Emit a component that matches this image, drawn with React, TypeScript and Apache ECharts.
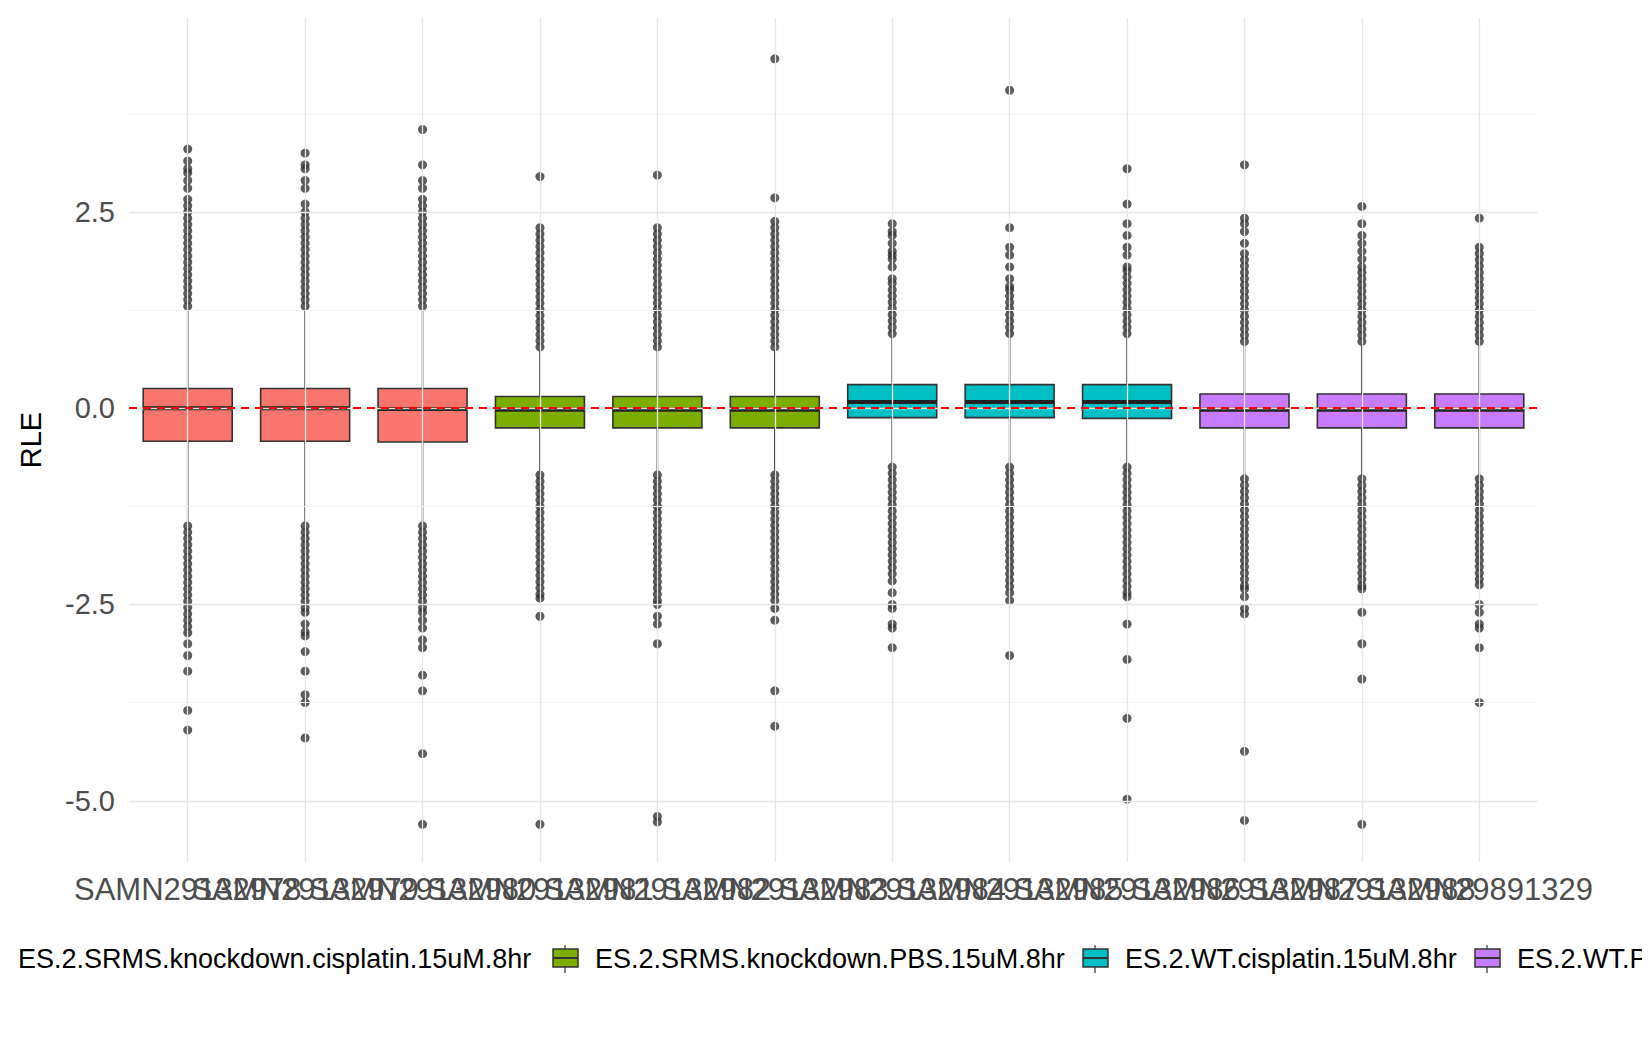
import { useEffect, useRef } from "react";
import * as echarts from "echarts";

const samples = [
  "SAMN29132978", "SAMN29132979", "SAMN29132980", "SAMN29132981",
  "SAMN29132982", "SAMN29132983", "SAMN29132984", "SAMN29132985",
  "SAMN29132986", "SAMN29132987", "SAMN29132988", "SAMN29891329",
];
const groupColors = ["#F8766D", "#7CAE00", "#00BFC4", "#C77CFF"];
const groupOf = [0, 0, 0, 1, 1, 1, 2, 2, 2, 3, 3, 3];
const groupNames = [
  "ES.2.SRMS.knockdown.cisplatin.15uM.8hr",
  "ES.2.SRMS.knockdown.PBS.15uM.8hr",
  "ES.2.WT.cisplatin.15uM.8hr",
  "ES.2.WT.PBS.15uM.8hr",
];

// [lower whisker, q1, median, q3, upper whisker]
const boxStats = [
  [-1.45, -0.42, 0.0, 0.25, 1.27],
  [-1.45, -0.42, 0.0, 0.25, 1.27],
  [-1.45, -0.43, -0.01, 0.25, 1.27],
  [-0.85, -0.25, -0.02, 0.15, 0.75],
  [-0.85, -0.25, -0.02, 0.15, 0.75],
  [-0.85, -0.25, -0.02, 0.15, 0.75],
  [-0.75, -0.12, 0.08, 0.3, 0.92],
  [-0.75, -0.12, 0.08, 0.3, 0.92],
  [-0.75, -0.13, 0.08, 0.3, 0.92],
  [-0.9, -0.25, -0.02, 0.18, 0.82],
  [-0.9, -0.25, -0.02, 0.18, 0.82],
  [-0.9, -0.25, -0.02, 0.18, 0.82],
];

const outliers: number[][] = [
  [1.3, 1.38, 1.46, 1.54, 1.62, 1.7, 1.78, 1.86, 1.94, 2.02, 2.1, 2.18, 2.26, 2.34, 2.42, 2.5, 2.58, 2.66, 2.8, 2.9, 3.0, 3.05, 3.15, 3.3,
    -1.5, -1.58, -1.66, -1.74, -1.82, -1.9, -1.98, -2.06, -2.14, -2.22, -2.3, -2.38, -2.46, -2.54, -2.62, -2.7, -2.78, -2.86, -3.0, -3.15, -3.35, -3.85, -4.1],
  [1.3, 1.38, 1.46, 1.54, 1.62, 1.7, 1.78, 1.86, 1.94, 2.02, 2.1, 2.18, 2.26, 2.34, 2.42, 2.5, 2.6, 2.8, 2.9, 3.05, 3.1, 3.25,
    -1.5, -1.58, -1.66, -1.74, -1.82, -1.9, -1.98, -2.06, -2.14, -2.22, -2.3, -2.38, -2.46, -2.54, -2.6, -2.75, -2.85, -2.9, -3.1, -3.35, -3.65, -3.75, -4.2],
  [1.3, 1.38, 1.46, 1.54, 1.62, 1.7, 1.78, 1.86, 1.94, 2.02, 2.1, 2.18, 2.26, 2.34, 2.42, 2.5, 2.58, 2.66, 2.8, 2.9, 3.1, 3.55,
    -1.5, -1.58, -1.66, -1.74, -1.82, -1.9, -1.98, -2.06, -2.14, -2.22, -2.3, -2.38, -2.46, -2.54, -2.6, -2.7, -2.8, -2.95, -3.05, -3.4, -3.6, -4.4, -5.3],
  [0.78, 0.86, 0.94, 1.02, 1.1, 1.18, 1.26, 1.34, 1.42, 1.5, 1.58, 1.66, 1.74, 1.82, 1.9, 1.98, 2.06, 2.14, 2.22, 2.3, 2.95,
    -0.85, -0.93, -1.01, -1.09, -1.17, -1.25, -1.33, -1.41, -1.49, -1.57, -1.65, -1.73, -1.81, -1.89, -1.97, -2.05, -2.13, -2.21, -2.29, -2.37, -2.42, -2.65, -5.3],
  [0.78, 0.86, 0.94, 1.02, 1.1, 1.18, 1.26, 1.34, 1.42, 1.5, 1.58, 1.66, 1.74, 1.82, 1.9, 1.98, 2.06, 2.14, 2.22, 2.3, 2.97,
    -0.85, -0.93, -1.01, -1.09, -1.17, -1.25, -1.33, -1.41, -1.49, -1.57, -1.65, -1.73, -1.81, -1.89, -1.97, -2.05, -2.13, -2.21, -2.29, -2.37, -2.45, -2.5, -2.65, -2.75, -3.0, -5.2, -5.27],
  [0.78, 0.86, 0.94, 1.02, 1.1, 1.18, 1.26, 1.34, 1.42, 1.5, 1.58, 1.66, 1.74, 1.82, 1.9, 1.98, 2.06, 2.14, 2.22, 2.3, 2.38, 2.68, 4.45,
    -0.85, -0.93, -1.01, -1.09, -1.17, -1.25, -1.33, -1.41, -1.49, -1.57, -1.65, -1.73, -1.81, -1.89, -1.97, -2.05, -2.13, -2.21, -2.29, -2.37, -2.45, -2.55, -2.7, -3.6, -4.05],
  [0.95, 1.03, 1.11, 1.19, 1.27, 1.35, 1.43, 1.51, 1.59, 1.65, 1.8, 1.9, 1.95, 2.0, 2.1, 2.2, 2.25, 2.35,
    -0.75, -0.83, -0.91, -0.99, -1.07, -1.15, -1.23, -1.31, -1.39, -1.47, -1.55, -1.63, -1.71, -1.79, -1.87, -1.95, -2.03, -2.11, -2.2, -2.35, -2.5, -2.55, -2.75, -2.8, -3.05],
  [0.95, 1.03, 1.11, 1.19, 1.27, 1.35, 1.43, 1.51, 1.55, 1.65, 1.8, 1.95, 2.05, 2.3, 4.05,
    -0.75, -0.83, -0.91, -0.99, -1.07, -1.15, -1.23, -1.31, -1.39, -1.47, -1.55, -1.63, -1.71, -1.79, -1.87, -1.95, -2.03, -2.11, -2.19, -2.27, -2.35, -2.45, -3.15],
  [0.95, 1.03, 1.11, 1.19, 1.27, 1.35, 1.43, 1.51, 1.59, 1.67, 1.75, 1.8, 1.95, 2.05, 2.2, 2.35, 2.6, 3.05,
    -0.75, -0.83, -0.91, -0.99, -1.07, -1.15, -1.23, -1.31, -1.39, -1.47, -1.55, -1.63, -1.71, -1.79, -1.87, -1.95, -2.03, -2.11, -2.19, -2.27, -2.35, -2.4, -2.75, -3.2, -3.95, -4.98],
  [0.85, 0.93, 1.01, 1.09, 1.17, 1.25, 1.33, 1.41, 1.49, 1.57, 1.65, 1.73, 1.81, 1.89, 1.97, 2.1, 2.25, 2.35, 2.42, 3.1,
    -0.9, -0.98, -1.06, -1.14, -1.22, -1.3, -1.38, -1.46, -1.54, -1.62, -1.7, -1.78, -1.86, -1.94, -2.02, -2.1, -2.18, -2.26, -2.3, -2.4, -2.55, -2.62, -4.37, -5.25],
  [0.85, 0.93, 1.01, 1.09, 1.17, 1.25, 1.33, 1.41, 1.49, 1.57, 1.65, 1.73, 1.8, 1.9, 2.0, 2.1, 2.2, 2.35, 2.57,
    -0.9, -0.98, -1.06, -1.14, -1.22, -1.3, -1.38, -1.46, -1.54, -1.62, -1.7, -1.78, -1.86, -1.94, -2.02, -2.1, -2.18, -2.26, -2.3, -2.6, -3.0, -3.45, -5.3],
  [0.85, 0.93, 1.01, 1.09, 1.17, 1.25, 1.33, 1.41, 1.49, 1.57, 1.65, 1.73, 1.81, 1.89, 1.97, 2.05, 2.42,
    -0.9, -0.98, -1.06, -1.14, -1.22, -1.3, -1.38, -1.46, -1.54, -1.62, -1.7, -1.78, -1.86, -1.94, -2.02, -2.1, -2.18, -2.25, -2.5, -2.6, -2.75, -2.8, -3.05, -3.75],
];

const majorY = [-5, -2.5, 0, 2.5];
const minorY = [-3.75, -1.25, 1.25, 3.75];
const yMin = -5.78;
const yMax = 4.97;
const font = "Liberation Sans, Arial, sans-serif";

function legendGraphic() {
  const keyX = [-32, 545, 1075, 1467];
  const items: any[] = [];
  keyX.forEach((x, i) => {
    const y = 941;
    items.push(
      { type: "line", shape: { x1: x + 12, y1: y - 4, x2: x + 12, y2: y + 24 }, style: { stroke: "#333", lineWidth: 1.2 } },
      { type: "rect", shape: { x, y, width: 25, height: 18 }, style: { fill: groupColors[i], stroke: "#333", lineWidth: 1.5 } },
      { type: "line", shape: { x1: x, y1: y + 9, x2: x + 25, y2: y + 9 }, style: { stroke: "#333", lineWidth: 2 } },
      { type: "text", x: x + 42, y: y + 10, style: { text: groupNames[i], font: `27px ${font}`, fill: "#000", verticalAlign: "middle" } },
    );
  });
  return items;
}

export default function App() {
  const ref = useRef<HTMLDivElement | null>(null);

  useEffect(() => {
    if (!ref.current) return;
    const chart = echarts.init(ref.current, undefined, { renderer: "svg" });
    const pts: number[][] = [];
    outliers.forEach((list, i) => list.forEach((v) => pts.push([i, v])));
    chart.setOption({
      animation: false,
      backgroundColor: "#fff",
      grid: { left: 118, right: 104, top: 10, bottom: 180 },
      xAxis: {
        type: "category",
        data: samples,
        axisLine: { show: false },
        axisTick: { show: false },
        splitLine: { show: false },
        axisLabel: { color: "#4d4d4d", fontSize: 31, fontFamily: font, interval: 0, margin: 12 },
      },
      yAxis: {
        type: "value",
        min: yMin,
        max: yMax,
        name: "RLE",
        nameLocation: "middle",
        nameGap: 84,
        nameTextStyle: { color: "#000", fontSize: 29, fontFamily: font },
        axisLine: { show: false },
        axisTick: { show: false },
        splitLine: { show: false },
        axisLabel: {
          customValues: majorY,
          color: "#4d4d4d",
          fontSize: 29,
          fontFamily: font,
          margin: 14,
          formatter: (v: number) => v.toFixed(1),
        },
      },
      graphic: legendGraphic(),
      series: [
        {
          type: "line",
          data: [],
          silent: true,
          markLine: {
            silent: true,
            symbol: "none",
            label: { show: false },
            data: [
              ...minorY.map((v) => ({ yAxis: v, lineStyle: { color: "#f3f3f3", width: 1, type: "solid" } })),
              ...majorY.map((v) => ({ yAxis: v, lineStyle: { color: "#e6e6e6", width: 1.3, type: "solid" } })),
              ...samples.map((s) => ({ xAxis: s, lineStyle: { color: "#e6e6e6", width: 1.3, type: "solid" } })),
            ],
          },
          z: 0,
        },
        {
          type: "custom",
          data: boxStats.map((s, i) => [i, ...s]),
          encode: { x: 0, y: [1, 5] },
          renderItem: (params: any, api: any) => {
            const i = api.value(0);
            const [x, yLo] = api.coord([i, api.value(1)]);
            const yQ1 = api.coord([i, api.value(2)])[1];
            const yMed = api.coord([i, api.value(3)])[1];
            const yQ3 = api.coord([i, api.value(4)])[1];
            const yHi = api.coord([i, api.value(5)])[1];
            const half = 44.5;
            const stroke = { stroke: "#333", lineWidth: 1.6 };
            return {
              type: "group",
              children: [
                { type: "line", shape: { x1: x, y1: yQ3, x2: x, y2: yHi }, style: stroke },
                { type: "line", shape: { x1: x, y1: yQ1, x2: x, y2: yLo }, style: stroke },
                { type: "rect", shape: { x: x - half, y: yQ3, width: half * 2, height: yQ1 - yQ3 }, style: { fill: groupColors[groupOf[i]], ...stroke } },
                { type: "line", shape: { x1: x - half, y1: yMed, x2: x + half, y2: yMed }, style: { stroke: "#222", lineWidth: 4 } },
              ],
            };
          },
          z: 2,
        },
        {
          type: "scatter",
          data: pts,
          symbolSize: 9,
          itemStyle: { color: "#333" },
          z: 3,
        },
        {
          type: "line",
          data: [],
          markLine: {
            silent: true,
            symbol: "none",
            label: { show: false },
            data: [{ yAxis: 0, lineStyle: { color: "#ff0000", width: 2, type: [8, 6] } }],
          },
          z: 5,
        },
      ],
    });
    return () => chart.dispose();
  }, []);

  return <div ref={ref} style={{ width: 1634, height: 1034 }} />;
}
